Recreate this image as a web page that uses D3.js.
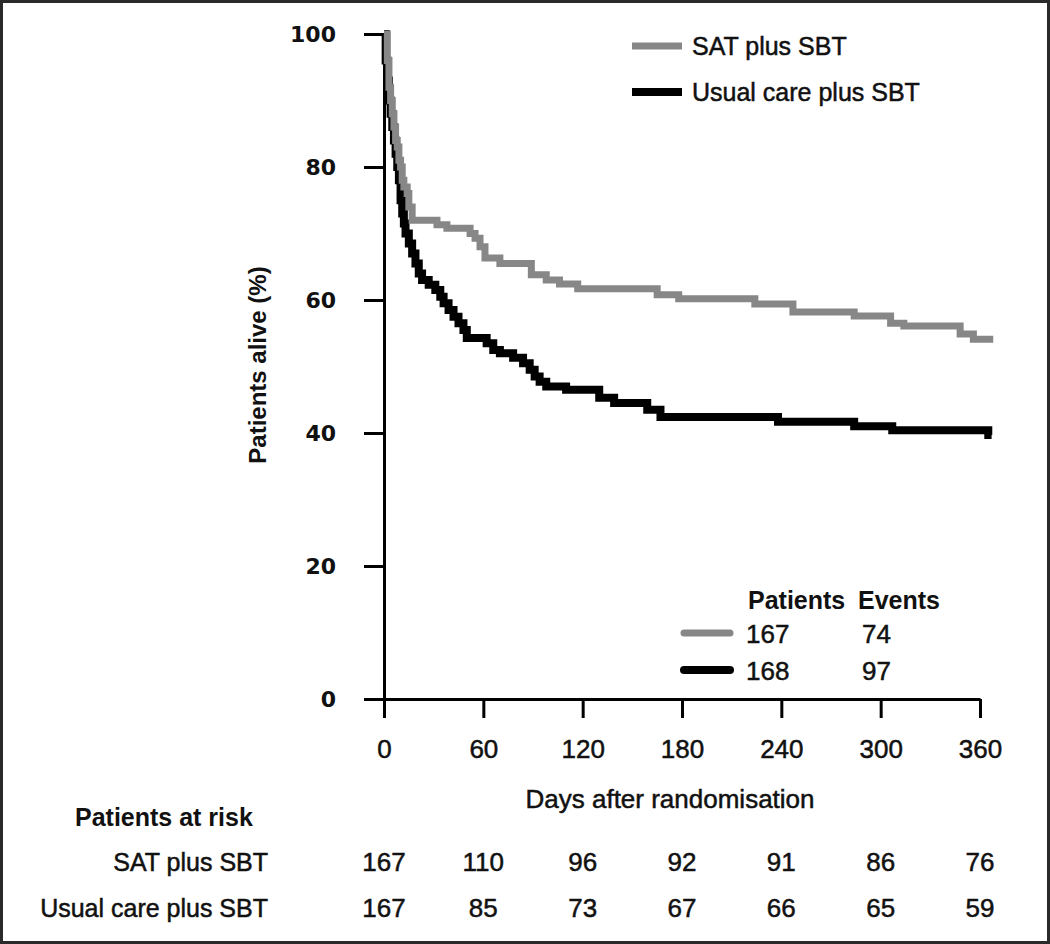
<!DOCTYPE html>
<html>
<head>
<meta charset="utf-8">
<script src="https://cdn.jsdelivr.net/npm/d3@7/dist/d3.min.js"></script>
<style>
  html, body { margin: 0; padding: 0; background: #fff; }
  svg { display: block; }
  text { fill: #111; }
  text.reg { stroke: #111; stroke-width: 0.5px; }
</style>
</head>
<body>
<svg id="chart" width="1050" height="944"></svg>
<script>
// ---- data ----
const seriesNames = ["SAT plus SBT", "Usual care plus SBT"];
const satDays =     [0, 2, 3, 4, 5, 6, 7, 8, 9, 10, 11, 12, 14, 15, 17, 32, 38, 52, 55, 58, 61, 70, 89, 98, 106, 117, 165, 178, 224, 247, 284, 306, 314, 348, 356, 368];
const satSurv =     [100, 96, 92, 90, 88, 86, 84, 83, 81, 80, 78, 77, 76, 74, 72, 71.3, 70.8, 70, 69.3, 68, 66.3, 65.5, 63.8, 63, 62.4, 61.7, 60.8, 60.2, 59.4, 58.2, 57.6, 56.5, 56.1, 54.9, 54.1, 54.1];
const usualDays =   [0, 1, 2, 3, 4, 5, 6, 7, 8, 9, 10, 11, 12, 13, 15, 17, 19, 21, 23, 27, 31, 34, 36, 39, 42, 45, 48, 50, 62, 66, 70, 78, 84, 88, 91, 94, 98, 110, 130, 139, 159, 167, 238, 284, 307, 365, 367];
const usualSurv =   [100, 96, 93, 90, 88, 86, 84, 82, 80, 78, 75, 73, 71.5, 70, 68.5, 67, 65.5, 64, 63, 62.3, 61.5, 60.5, 59.5, 58.5, 57.5, 56.5, 55.5, 54.3, 53.5, 52.5, 52, 51.3, 50.5, 49.5, 48.5, 47.7, 47, 46.5, 45.3, 44.5, 43.5, 42.4, 41.7, 41, 40.4, 39.7, 39.7];
const xTicks = [0, 60, 120, 180, 240, 300, 360];
const yTicks = [0, 20, 40, 60, 80, 100];
const atRiskSat =   [167, 110, 96, 92, 91, 86, 76];
const atRiskUsual = [167, 85, 73, 67, 66, 65, 59];
const tablePatients = [167, 168];
const tableEvents = [74, 97];

// ---- layout ----
const svg = d3.select("#chart");
const FONT = "'Liberation Sans', Arial, sans-serif";
const colors = ["#878787", "#000000"];
const widths = [7, 8];

const x = d3.scaleLinear().domain([0, 360]).range([384, 980]);
const y = d3.scaleLinear().domain([0, 100]).range([699, 34]);

// frame
svg.append("rect").attr("x", 1.5).attr("y", 1.5).attr("width", 1047).attr("height", 941)
  .attr("fill", "none").attr("stroke", "#2a2a2a").attr("stroke-width", 3);

// y axis
const yAxis = svg.append("g").attr("transform", `translate(${x(0)},0)`)
  .call(d3.axisLeft(y).tickValues(yTicks).tickSize(20).tickPadding(28).tickSizeOuter(0));
yAxis.select(".domain").attr("stroke", "#000").attr("stroke-width", 3);
yAxis.selectAll(".tick line").attr("stroke", "#000").attr("stroke-width", 3);
yAxis.selectAll(".tick text").attr("font-family", "'DejaVu Sans', sans-serif")
  .attr("font-size", 22).attr("font-weight", "bold").attr("fill", "#222");

// x axis
const xAxis = svg.append("g").attr("transform", `translate(0,${y(0)})`)
  .call(d3.axisBottom(x).tickValues(xTicks).tickSize(19).tickPadding(22).tickSizeOuter(0));
xAxis.select(".domain").attr("stroke", "#000").attr("stroke-width", 3);
xAxis.selectAll(".tick line").attr("stroke", "#000").attr("stroke-width", 3);
xAxis.selectAll(".tick text").attr("class", "reg").attr("font-family", FONT).attr("font-size", 26).attr("fill", "#111");

// axis titles
svg.append("text").attr("transform", `translate(266,365) rotate(-90)`)
  .attr("text-anchor", "middle").attr("font-family", FONT).attr("font-weight", "bold")
  .attr("font-size", 24).text("Patients alive (%)");
svg.append("text").attr("class", "reg").attr("x", 670).attr("y", 808).attr("text-anchor", "middle")
  .attr("font-family", FONT).attr("font-size", 26).text("Days after randomisation");

// curves
const line = d3.line().x(d => x(d[0])).y(d => y(d[1])).curve(d3.curveStepAfter);
const satData = satDays.map((d, i) => [d, satSurv[i]]);
const usualData = usualDays.map((d, i) => [d, usualSurv[i]]);
svg.append("path").datum(usualData).attr("d", line).attr("fill", "none")
  .attr("stroke", colors[1]).attr("stroke-width", widths[1]);
svg.append("path").datum(satData).attr("d", line).attr("fill", "none")
  .attr("stroke", colors[0]).attr("stroke-width", widths[0]);

// top legend
const legY = [46, 92];
seriesNames.forEach((name, i) => {
  svg.append("line").attr("x1", 632).attr("x2", 682).attr("y1", legY[i]).attr("y2", legY[i])
    .attr("stroke", colors[i]).attr("stroke-width", widths[i]);
  svg.append("text").attr("class", "reg").attr("x", 692).attr("y", legY[i] + 9).attr("font-family", FONT)
    .attr("font-size", 25).text(name);
});

// patients/events table
svg.append("text").attr("x", 748).attr("y", 609).attr("font-family", FONT)
  .attr("font-weight", "bold").attr("font-size", 25).text("Patients");
svg.append("text").attr("x", 858).attr("y", 609).attr("font-family", FONT)
  .attr("font-weight", "bold").attr("font-size", 25).text("Events");
const tabY = [633, 670];
tablePatients.forEach((p, i) => {
  svg.append("line").attr("x1", 684).attr("x2", 730).attr("y1", tabY[i]).attr("y2", tabY[i])
    .attr("stroke", colors[i]).attr("stroke-width", widths[i]).attr("stroke-linecap", "round");
  svg.append("text").attr("class", "reg").attr("x", 746).attr("y", tabY[i] + 10).attr("font-family", FONT)
    .attr("font-size", 26).text(p);
  svg.append("text").attr("class", "reg").attr("x", 862).attr("y", tabY[i] + 10).attr("font-family", FONT)
    .attr("font-size", 26).text(tableEvents[i]);
});

// at risk table
svg.append("text").attr("x", 75).attr("y", 826).attr("font-family", FONT)
  .attr("font-weight", "bold").attr("font-size", 25).text("Patients at risk");
const riskY = [871, 917];
[atRiskSat, atRiskUsual].forEach((row, i) => {
  svg.append("text").attr("class", "reg").attr("x", 268).attr("y", riskY[i]).attr("text-anchor", "end")
    .attr("font-family", FONT).attr("font-size", 25).text(seriesNames[i]);
  row.forEach((v, j) => {
    svg.append("text").attr("class", "reg").attr("x", x(xTicks[j])).attr("y", riskY[i]).attr("text-anchor", "middle")
      .attr("font-family", FONT).attr("font-size", 26).text(v);
  });
});
</script>
</body>
</html>
